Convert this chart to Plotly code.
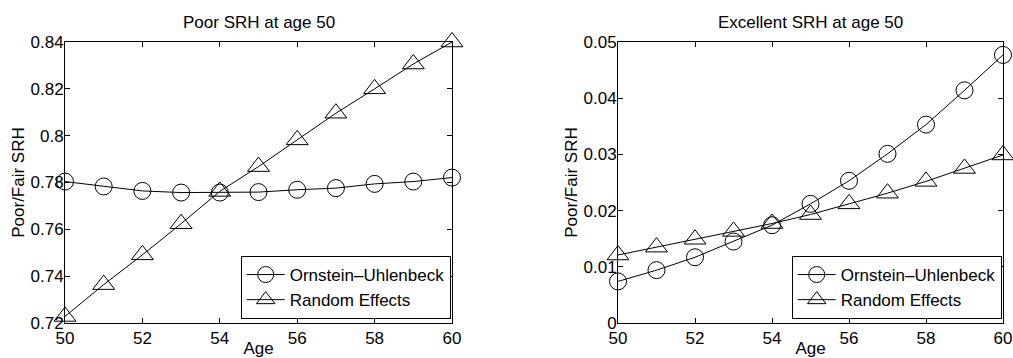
import plotly.graph_objects as go
from plotly.subplots import make_subplots

# Ages on the horizontal axis
ages = [50, 51, 52, 53, 54, 55, 56, 57, 58, 59, 60]

# Poor SRH at age 50: predicted probability of poor/fair SRH
poor_ou = [0.7804, 0.7783, 0.7764, 0.7757, 0.7757, 0.7759, 0.7769, 0.7776, 0.7794, 0.7804, 0.7821]
poor_re = [0.7228, 0.7364, 0.7491, 0.7624, 0.7762, 0.7868, 0.7982, 0.8096, 0.8200, 0.8306, 0.8400]

# Excellent SRH at age 50: predicted probability of poor/fair SRH
exc_ou = [0.0074, 0.0094, 0.0117, 0.0145, 0.0174, 0.0212, 0.0253, 0.0301, 0.0353, 0.0414, 0.0477]
exc_re = [0.0121, 0.0135, 0.0149, 0.0163, 0.0177, 0.0193, 0.0212, 0.0231, 0.0252, 0.0275, 0.0299]

series_names = ["Ornstein\u2013Uhlenbeck", "Random Effects"]
panel_titles = ["Poor SRH at age 50", "Excellent SRH at age 50"]

x_ticks = [50, 52, 54, 56, 58, 60]
y1_ticks = [0.72, 0.74, 0.76, 0.78, 0.80, 0.82, 0.84]
y1_labels = ["0.72", "0.74", "0.76", "0.78", "0.8", "0.82", "0.84"]
y2_ticks = [0, 0.01, 0.02, 0.03, 0.04, 0.05]
y2_labels = ["0", "0.01", "0.02", "0.03", "0.04", "0.05"]

FONT = "Liberation Sans, Arial, Helvetica, sans-serif"
FS = 17

W, H = 1013, 358
ML, MR, MT, MB = 65, 10, 42, 35
pw = W - ML - MR
ph = H - MT - MB
left_dom = [0, (452 - ML) / pw]
right_dom = [(618 - ML) / pw, 1]

fig = make_subplots(rows=1, cols=2)

symbols = ["circle-open", "triangle-up-open"]
sizes = [17, 19]
panels = [(poor_ou, poor_re), (exc_ou, exc_re)]
legends = ["legend", "legend2"]

for col, (ou, re) in enumerate(panels, start=1):
    for k, ys in enumerate((ou, re)):
        fig.add_trace(
            go.Scatter(
                x=ages, y=ys, name=series_names[k],
                mode="lines+markers",
                line=dict(color="black", width=1),
                marker=dict(symbol=symbols[k], size=sizes[k], color="black",
                            line=dict(color="black", width=1)),
                cliponaxis=False,
                legend=legends[col - 1],
            ),
            row=1, col=col,
        )

axis_common = dict(
    showline=True, linecolor="black", linewidth=1, mirror="ticks",
    ticks="inside", ticklen=5, tickcolor="black", tickwidth=1,
    showgrid=False, zeroline=False,
    tickfont=dict(family=FONT, size=FS, color="black"),
)

fig.update_xaxes(**axis_common, range=[50, 60], tickvals=x_ticks,
                 title=dict(text="Age", font=dict(family=FONT, size=FS, color="black"), standoff=2))
fig.update_xaxes(domain=left_dom, row=1, col=1)
fig.update_xaxes(domain=right_dom, row=1, col=2)

fig.update_yaxes(**axis_common, ticklabelstandoff=-3)
fig.update_yaxes(range=[0.72, 0.84], tickvals=y1_ticks, ticktext=y1_labels,
                 title=dict(text="Poor/Fair SRH", font=dict(family=FONT, size=FS, color="black"), standoff=1),
                 row=1, col=1)
fig.update_yaxes(range=[0, 0.05], tickvals=y2_ticks, ticktext=y2_labels,
                 title=dict(text="Poor/Fair SRH", font=dict(family=FONT, size=FS, color="black"), standoff=1),
                 row=1, col=2)

for dom, title in zip((left_dom, right_dom), panel_titles):
    fig.add_annotation(
        text=title, xref="paper", yref="paper",
        x=(dom[0] + dom[1]) / 2, y=1, xanchor="center", yanchor="bottom",
        yshift=8, showarrow=False,
        font=dict(family=FONT, size=FS, color="black"),
    )

legend_common = dict(
    bgcolor="white", bordercolor="black", borderwidth=1,
    font=dict(family=FONT, size=FS, color="black"),
    xanchor="right", yanchor="bottom", y=(323 - 319) / ph,
    tracegroupgap=0, itemwidth=38,
)

fig.update_layout(
    width=W, height=H,
    margin=dict(l=ML, r=MR, t=MT, b=MB, autoexpand=False),
    paper_bgcolor="white", plot_bgcolor="white",
    font=dict(family=FONT, size=FS, color="black"),
    showlegend=True,
    legend=dict(**legend_common, x=(450.7 - ML) / pw),
    legend2=dict(**legend_common, x=(1001.7 - ML) / pw),
)

fig.write_html("out.html")
